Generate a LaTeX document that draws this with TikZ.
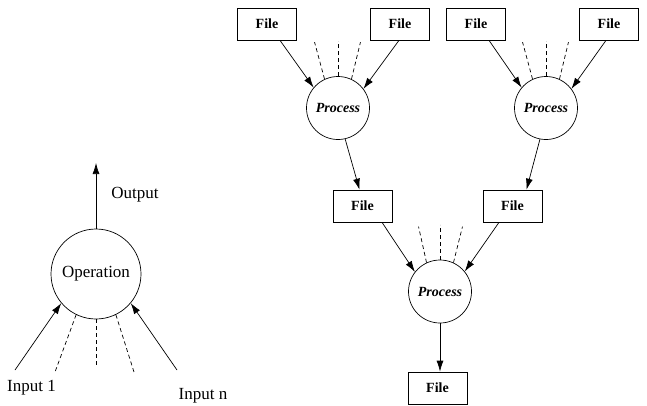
\documentclass[tikz,border=0pt]{standalone}
\usepackage{fontspec}
\setmainfont{Liberation Serif}
\usetikzlibrary{arrows.meta}
\begin{document}
\begin{tikzpicture}[x=1pt,y=-1pt,
  line width=0.7pt,
  arr/.style={-{Latex[length=11pt,width=7pt]}},
  dsh/.style={dash pattern=on 4pt off 3pt},
  filebox/.style={draw, rectangle, minimum width=59pt, minimum height=32pt,
    inner sep=0pt, font=\fontsize{14}{16}\selectfont\bfseries},
  proc/.style={draw, circle, minimum size=63pt, inner sep=0pt,
    font=\fontsize{14}{16}\selectfont\bfseries\itshape},
  oper/.style={draw, circle, minimum size=90pt, inner sep=0pt,
    font=\fontsize{17}{20}\selectfont},
  lbl/.style={inner sep=0pt, font=\fontsize{17}{20}\selectfont}]

\useasboundingbox (0,0) rectangle (647,405);

% ---- generic operation ----
\node[oper] (op) at (96,274) {Operation};
\coordinate (out) at (96,163);
\draw[arr] (op.north) -- (out);
\node[lbl] (outl) at (135,195) {Output};

\coordinate (in1) at (15,370);
\coordinate (inn) at (177,370);
\draw[arr] (in1) -- (op.-140);
\draw[arr] (inn) -- (op.-40);

\coordinate (d1) at (55,372);
\coordinate (d2) at (96,368);
\coordinate (d3) at (134,372);
\draw[dsh] (op.-116) -- (d1);
\draw[dsh] (op.-90) -- (d2);
\draw[dsh] (op.-64) -- (d3);

\node[lbl] (i1) at (31.5,388) {Input 1};
\node[lbl] (inl) at (203,396) {Input n};

% ---- process tree ----
\node[filebox] (f1) at (267,24) {File};
\node[filebox] (f2) at (400,24) {File};
\node[filebox] (f3) at (476,24) {File};
\node[filebox] (f4) at (609,24) {File};

\node[proc] (p1) at (338,108) {Process};
\node[proc] (p2) at (546,108) {Process};

\node[filebox] (m1) at (362.5,206) {File};
\node[filebox] (m2) at (512.5,206) {File};

\node[proc] (p3) at (440,291.5) {Process};
\node[filebox] (fb) at (437.5,388) {File};

% inputs of the upper processes
\draw[arr] ([xshift=13pt]f1.south) -- (p1.140);
\draw[arr] ([xshift=-1pt]f2.south) -- (p1.37);
\draw[dsh] (p1.115) -- ++(-10,-37);
\draw[dsh] (p1.90) -- ++(0,-35);
\draw[dsh] (p1.65) -- ++(9,-37);

\draw[arr] ([xshift=13pt]f3.south) -- (p2.140);
\draw[arr] ([xshift=-3pt]f4.south) -- (p2.37);
\draw[dsh] (p2.115) -- ++(-10,-37);
\draw[dsh] (p2.90) -- ++(0,-35);
\draw[dsh] (p2.65) -- ++(9,-37);

% outputs of the upper processes
\draw[arr] (p1.-77) -- ([xshift=-3pt]m1.north);
\draw[arr] (p2.-101) -- ([xshift=14pt]m2.north);

% lower process
\draw[arr] ([xshift=19.5pt]m1.south) -- (p3.142);
\draw[arr] ([xshift=-13.5pt]m2.south) -- (p3.39);
\draw[dsh] (p3.115) -- ++(-8,-36);
\draw[dsh] (p3.90) -- ++(0,-35);
\draw[dsh] (p3.65) -- ++(9,-36);
\draw[arr] (p3.south) -- (p3.south |- fb.north);
\end{tikzpicture}
\end{document}
